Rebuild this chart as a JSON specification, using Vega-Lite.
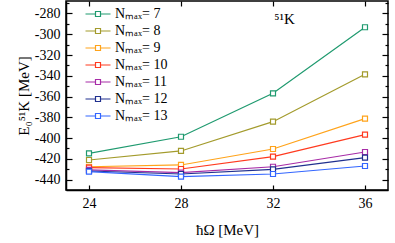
{
  "$schema": "https://vega.github.io/schema/vega-lite/v6.json",
  "width": 322,
  "height": 189,
  "autosize": "none",
  "padding": {"left": 66, "top": 1, "right": 7, "bottom": 53},
  "background": "white",
  "config": {
    "font": "Liberation Serif",
    "style": {"guide-label": {"font": "Liberation Serif"}, "guide-title": {"font": "Liberation Serif"}},
    "view": {"stroke": "#000", "strokeWidth": 1.5},
    "axis": {"labelColor": "#000", "titleColor": "#000", "titleFontWeight": "normal", "domainColor": "#000", "domainWidth": 1.5, "tickColor": "#000", "tickWidth": 1.2, "grid": false}
  },
  "datasets": {
    "pts": [
      {"n": "Nₘₐₓ= 7", "hw": 24, "E": -414.7}, {"n": "Nₘₐₓ= 7", "hw": 28, "E": -398.7}, {"n": "Nₘₐₓ= 7", "hw": 32, "E": -356.9}, {"n": "Nₘₐₓ= 7", "hw": 36, "E": -293.3},
      {"n": "Nₘₐₓ= 8", "hw": 24, "E": -421.1}, {"n": "Nₘₐₓ= 8", "hw": 28, "E": -412.4}, {"n": "Nₘₐₓ= 8", "hw": 32, "E": -384.2}, {"n": "Nₘₐₓ= 8", "hw": 36, "E": -338.6},
      {"n": "Nₘₐₓ= 9", "hw": 24, "E": -427.6}, {"n": "Nₘₐₓ= 9", "hw": 28, "E": -425.9}, {"n": "Nₘₐₓ= 9", "hw": 32, "E": -410.5}, {"n": "Nₘₐₓ= 9", "hw": 36, "E": -381.3},
      {"n": "Nₘₐₓ= 10", "hw": 24, "E": -428.5}, {"n": "Nₘₐₓ= 10", "hw": 28, "E": -429.8}, {"n": "Nₘₐₓ= 10", "hw": 32, "E": -417.9}, {"n": "Nₘₐₓ= 10", "hw": 36, "E": -396.7},
      {"n": "Nₘₐₓ= 11", "hw": 24, "E": -430.7}, {"n": "Nₘₐₓ= 11", "hw": 28, "E": -433.3}, {"n": "Nₘₐₓ= 11", "hw": 32, "E": -427.6}, {"n": "Nₘₐₓ= 11", "hw": 36, "E": -413.4},
      {"n": "Nₘₐₓ= 12", "hw": 24, "E": -431.7}, {"n": "Nₘₐₓ= 12", "hw": 28, "E": -434.6}, {"n": "Nₘₐₓ= 12", "hw": 32, "E": -430.1}, {"n": "Nₘₐₓ= 12", "hw": 36, "E": -418.9},
      {"n": "Nₘₐₓ= 13", "hw": 24, "E": -432.4}, {"n": "Nₘₐₓ= 13", "hw": 28, "E": -437.2}, {"n": "Nₘₐₓ= 13", "hw": 32, "E": -434.6}, {"n": "Nₘₐₓ= 13", "hw": 36, "E": -426.9}
    ],
    "ann": [{"hw": 32.5, "E": -285, "t": "⁵¹K"}]
  },
  "layer": [
    {
      "data": {"name": "pts"},
      "mark": {"type": "line", "strokeWidth": 1.2},
      "encoding": {
        "x": {"field": "hw", "type": "quantitative", "scale": {"domain": [23, 37], "nice": false, "zero": false},
              "axis": {"orient": "bottom", "values": [24, 28, 32, 36], "tickSize": -5, "labelFont": "Liberation Serif", "titleFont": "Liberation Serif", "labelFontSize": 14, "labelPadding": 11, "title": "ħΩ [MeV]", "titleFontSize": 15, "titlePadding": 12}},
        "y": {"field": "E", "type": "quantitative", "scale": {"domain": [-450, -268], "nice": false, "zero": false},
              "axis": {"orient": "left", "values": [-440, -430, -420, -410, -400, -390, -380, -370, -360, -350, -340, -330, -320, -310, -300, -290, -280, -270],
                       "labelExpr": "datum.value % 20 === 0 ? '-' + abs(datum.value) : ''",
                       "tickSize": {"condition": {"test": "datum.value % 20 === 0", "value": -6}, "value": -3},
                       "labelFont": "Liberation Serif", "titleFont": "Liberation Serif",
                       "labelFontSize": 14, "labelPadding": 12, "title": "E₀⁵¹K [MeV]", "titleFontSize": 15, "titlePadding": 3}},
        "stroke": {"field": "n", "type": "nominal",
                   "scale": {"domain": ["Nₘₐₓ= 7", "Nₘₐₓ= 8", "Nₘₐₓ= 9", "Nₘₐₓ= 10", "Nₘₐₓ= 11", "Nₘₐₓ= 12", "Nₘₐₓ= 13"],
                             "range": ["#1f9a6f", "#a39b2c", "#ffa31a", "#ff3a1f", "#a72ca7", "#20308f", "#3366ff"]},
                   "legend": {"orient": "none", "legendX": 25, "legendY": 6, "title": null,
                              "symbolType": "M-2.5,0H-0.5M0.5,0H2.5M-0.5,-0.5H0.5V0.5H-0.5Z", "symbolSize": 100,
                              "symbolFillColor": "white", "symbolStrokeWidth": 1.2, "labelFont": "Liberation Serif",
                              "labelFontSize": 14, "labelColor": "#000", "labelOffset": 10, "rowPadding": 3}}
      }
    },
    {
      "data": {"name": "pts"},
      "mark": {"type": "point", "shape": "square", "filled": false, "fill": "white", "size": 25, "strokeWidth": 1.2, "opacity": 1},
      "encoding": {
        "x": {"field": "hw", "type": "quantitative", "axis": {"orient": "top", "values": [24, 28, 32, 36], "tickSize": -5, "labels": false, "title": null, "domain": false}},
        "y": {"field": "E", "type": "quantitative",
              "axis": {"orient": "right", "values": [-440, -430, -420, -410, -400, -390, -380, -370, -360, -350, -340, -330, -320, -310, -300, -290, -280, -270],
                       "tickSize": {"condition": {"test": "datum.value % 20 === 0", "value": -6}, "value": -3}, "labels": false, "title": null, "domain": false}},
        "stroke": {"field": "n", "type": "nominal"}
      }
    },
    {
      "data": {"name": "ann"},
      "mark": {"type": "text", "font": "Liberation Serif", "fontSize": 15, "color": "#000"},
      "encoding": {
        "x": {"field": "hw", "type": "quantitative", "axis": null},
        "y": {"field": "E", "type": "quantitative", "axis": null},
        "text": {"field": "t"}
      }
    }
  ],
  "resolve": {"axis": {"x": "independent", "y": "independent"}}
}
